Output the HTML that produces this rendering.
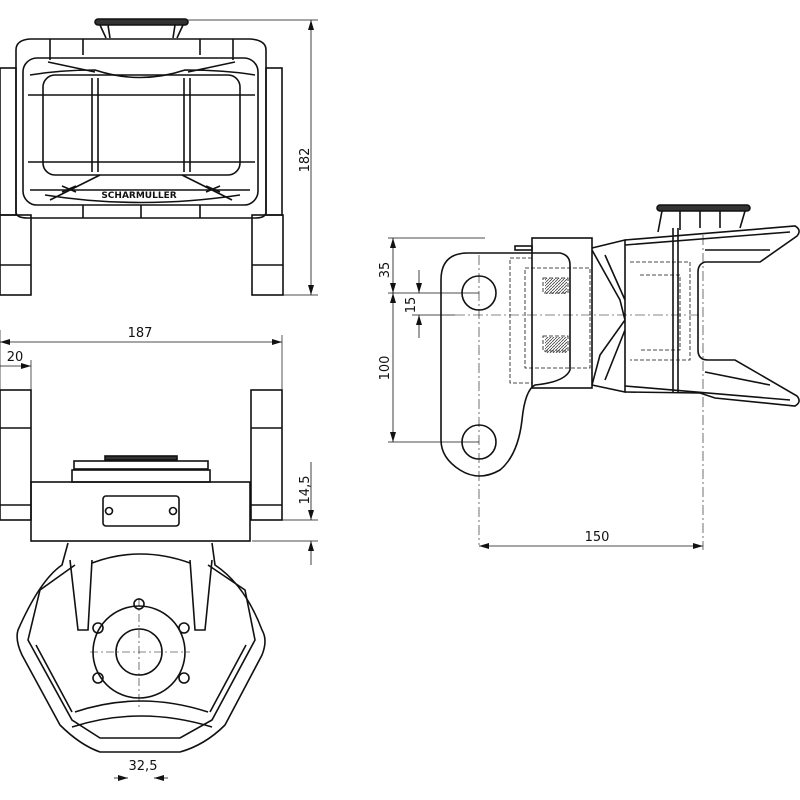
<!DOCTYPE html>
<html><head><meta charset="utf-8"><style>
html,body{margin:0;padding:0;background:#fff}
svg{display:block}
text{font-family:"DejaVu Sans","Liberation Sans",sans-serif;font-size:13px;fill:#111}
</style></head><body>
<svg width="800" height="800" viewBox="0 0 800 800" xmlns="http://www.w3.org/2000/svg">
<defs>
<marker id="a" markerWidth="10" markerHeight="6" refX="10" refY="3" orient="auto-start-reverse" markerUnits="userSpaceOnUse"><path d="M0,0 L10,3 L0,6 z" fill="#111"/></marker>
<pattern id="h" width="3" height="3" patternUnits="userSpaceOnUse"><path d="M0,3 L3,0" stroke="#444" stroke-width="0.8"/></pattern>
</defs>
<g fill="none" stroke="#111" stroke-width="1.6">
<!-- TOP VIEW -->
<rect x="95" y="19" width="93" height="6" rx="3" fill="#333"/>
<path d="M100,25 L106,38 M183,25 L177,38 M108,25 L110,38 M175,25 L173,38"/>
<rect x="0" y="68" width="16" height="147"/>
<rect x="266" y="68" width="16" height="147"/>
<rect x="0" y="215" width="31" height="80"/>
<rect x="252" y="215" width="31" height="80"/>
<line x1="0" y1="265" x2="31" y2="265"/><line x1="252" y1="265" x2="283" y2="265"/>
<path d="M16,50 Q16,40 30,39 L250,39 Q266,40 266,50 L266,212 Q266,218 255,218 L28,218 Q16,218 16,212 Z"/>
<path d="M50,39 L50,60 M83,39 L83,55 M200,39 L200,55 M233,39 L233,60 M83,205 L83,218 M200,205 L200,218 M141,205 L141,218"/>
<rect x="23" y="58" width="235" height="147" rx="14"/>
<path d="M30,75 Q60,70 95,70 Q140,85 185,70 Q225,70 255,75"/>
<path d="M28,95 L255,95 M28,162 L255,162"/>
<rect x="43" y="75" width="197" height="100" rx="12"/>
<path d="M92,78 L92,172 M98,78 L98,172 M184,78 L184,172 M190,78 L190,172"/>
<path d="M48,62 L95,72 M235,62 L188,72 M50,200 L100,175 M232,200 L182,175 M30,190 L250,190"/>
<path d="M45,195 Q140,210 240,195"/>
<path d="M62,186 L76,192 M62,192 L76,186 M206,186 L220,192 M206,192 L220,186"/>
<!-- dimension 182 -->
<g stroke-width="0.7"><line x1="188" y1="20" x2="318" y2="20"/><line x1="283" y1="295" x2="318" y2="295"/></g>
<line x1="311" y1="20" x2="311" y2="295" stroke-width="0.8" marker-start="url(#a)" marker-end="url(#a)"/>

<!-- BOTTOM VIEW -->
<g stroke-width="0.7"><line x1="0" y1="330" x2="0" y2="390"/><line x1="282" y1="335" x2="282" y2="390"/><line x1="31" y1="360" x2="31" y2="390"/></g>
<line x1="0" y1="342" x2="282" y2="342" stroke-width="0.8" marker-start="url(#a)" marker-end="url(#a)"/>
<line x1="0" y1="366" x2="31" y2="366" stroke-width="0.8" marker-end="url(#a)"/>
<rect x="0" y="390" width="31" height="130"/><line x1="0" y1="428" x2="31" y2="428"/><line x1="0" y1="505" x2="31" y2="505"/>
<rect x="251" y="390" width="31" height="130"/><line x1="251" y1="428" x2="282" y2="428"/><line x1="251" y1="505" x2="282" y2="505"/>
<rect x="31" y="482" width="219" height="59"/>
<rect x="72" y="470" width="138" height="12"/>
<rect x="74" y="461" width="134" height="8"/>
<rect x="105" y="456" width="72" height="4" fill="#333"/>
<rect x="103" y="496" width="76" height="30" rx="3"/>
<circle cx="109" cy="511" r="3.5"/><circle cx="173" cy="511" r="3.5"/>
<path d="M68,543 L62,565 Q40,580 18,630 Q15,640 22,655 L60,725 Q80,745 100,752 L180,752 Q205,745 225,725 L262,655 Q268,640 262,630 Q245,585 215,565 L212,543"/>
<path d="M75,565 L40,590 L28,640 L72,720 L100,738 L180,738 L212,720 L255,640 L245,590 L208,565"/>
<path d="M36,645 L72,712 M246,645 L210,712 M75,712 Q140,690 208,712 M72,727 Q140,705 212,727"/>
<path d="M70,560 L78,630 L88,630 L92,560 M212,560 L205,630 L195,630 L190,560"/>
<path d="M92,563 Q140,545 190,563"/>
<circle cx="139" cy="652" r="46"/><circle cx="139" cy="652" r="23"/>
<circle cx="139" cy="604" r="5"/><circle cx="98" cy="628" r="5"/><circle cx="184" cy="628" r="5"/><circle cx="98" cy="678" r="5"/><circle cx="184" cy="678" r="5"/>
<g stroke-width="0.6" stroke-dasharray="8,3,2,3"><line x1="139" y1="598" x2="139" y2="710"/><line x1="90" y1="652" x2="190" y2="652"/></g>
<g stroke-width="0.7"><line x1="252" y1="520" x2="318" y2="520"/><line x1="252" y1="541" x2="318" y2="541"/></g>
<line x1="311" y1="462" x2="311" y2="520" stroke-width="0.8" marker-end="url(#a)"/>
<line x1="311" y1="565" x2="311" y2="541" stroke-width="0.8" marker-end="url(#a)"/>
<line x1="114" y1="778" x2="128" y2="778" stroke-width="0.8" marker-end="url(#a)"/>
<line x1="168" y1="778" x2="154" y2="778" stroke-width="0.8" marker-end="url(#a)"/>

<!-- SIDE VIEW -->
<path d="M441,280 Q441,253 468,253 L560,253 Q570,255 570,265 L570,370 Q565,382 535,385 Q525,390 522,420 Q518,455 500,470 Q479,482 460,470 Q441,458 441,440 Z"/>
<circle cx="479" cy="293" r="17"/><circle cx="479" cy="442" r="17"/>
<rect x="532" y="238" width="60" height="150"/>
<rect x="515" y="246" width="17" height="4"/>
<g stroke-dasharray="4,2" stroke-width="0.8">
<rect x="510" y="258" width="22" height="125"/>
<rect x="525" y="268" width="65" height="100"/>
<rect x="543" y="278" width="25" height="15"/><rect x="543" y="336" width="25" height="15"/>
<path d="M630,262 L690,262 L690,360 L630,360 M640,275 L680,275 L680,350 L640,350"/>
</g>
<rect x="545" y="278" width="22" height="16" fill="url(#h)" stroke="none"/>
<rect x="545" y="337" width="22" height="16" fill="url(#h)" stroke="none"/>
<path d="M592,248 L625,240 L625,392 L592,385 M592,250 L620,300 L625,320 L600,355 L592,385 M605,255 L625,300 M605,380 L625,330"/>
<path d="M625,240 L795,226 Q802,230 797,236 L760,262 L705,262 Q698,264 698,272 L698,350 Q698,360 708,360 L735,360 L797,396 Q802,402 795,406 L715,398 L700,393 L625,392"/>
<path d="M625,245 L790,232 M625,386 L790,400 M705,250 L770,250 M705,372 L770,385"/>
<line x1="673" y1="228" x2="673" y2="392"/><line x1="678" y1="228" x2="678" y2="392"/>
<rect x="657" y="205" width="93" height="6" rx="3" fill="#333"/>
<path d="M662,211 L658,232 M745,211 L740,228 M680,211 L680,230 M700,211 L700,228 M720,211 L720,228"/>
<g stroke-width="0.6" stroke-dasharray="10,3,2,3">
<line x1="455" y1="315" x2="700" y2="315"/><line x1="479" y1="255" x2="479" y2="545"/><line x1="703" y1="235" x2="703" y2="550"/>
</g>
<g stroke-width="0.7"><line x1="388" y1="238" x2="485" y2="238"/><line x1="388" y1="293" x2="479" y2="293"/><line x1="388" y1="442" x2="479" y2="442"/><line x1="412" y1="315" x2="455" y2="315"/></g>
<line x1="393" y1="238" x2="393" y2="293" stroke-width="0.8" marker-start="url(#a)" marker-end="url(#a)"/>
<line x1="393" y1="293" x2="393" y2="442" stroke-width="0.8" marker-start="url(#a)" marker-end="url(#a)"/>
<line x1="419" y1="270" x2="419" y2="293" stroke-width="0.8" marker-end="url(#a)"/>
<line x1="419" y1="338" x2="419" y2="315" stroke-width="0.8" marker-end="url(#a)"/>
<line x1="479" y1="546" x2="703" y2="546" stroke-width="0.8" marker-start="url(#a)" marker-end="url(#a)"/>
</g>
<text x="139" y="198" text-anchor="middle" style="font-size:9px;font-weight:bold">SCHARMÜLLER</text>
<text transform="translate(309,160) rotate(-90)" text-anchor="middle">182</text>
<text x="140" y="337" text-anchor="middle">187</text>
<text x="15" y="361" text-anchor="middle">20</text>
<text transform="translate(309,490) rotate(-90)" text-anchor="middle">14,5</text>
<text x="143" y="770" text-anchor="middle">32,5</text>
<text transform="translate(389,270) rotate(-90)" text-anchor="middle">35</text>
<text transform="translate(415,305) rotate(-90)" text-anchor="middle">15</text>
<text transform="translate(389,368) rotate(-90)" text-anchor="middle">100</text>
<text x="597" y="541" text-anchor="middle">150</text>
</svg>
</body></html>
